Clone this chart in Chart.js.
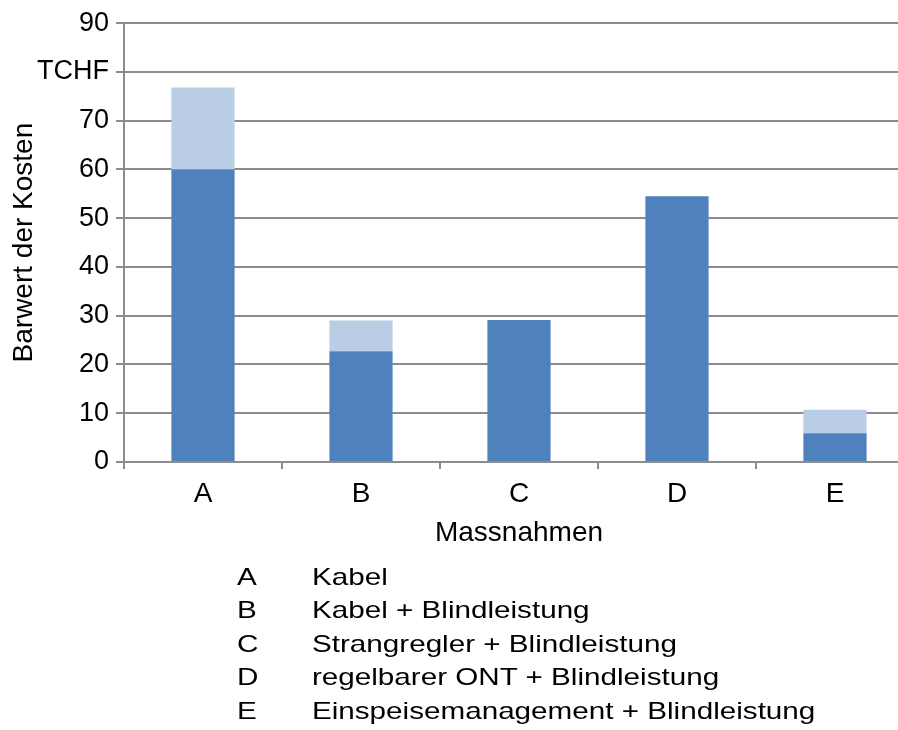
<!DOCTYPE html>
<html lang="de">
<head>
<meta charset="utf-8">
<title>Barwert der Kosten je Massnahme</title>
<script src="https://cdn.jsdelivr.net/npm/chart.js@4/dist/chart.umd.min.js"></script>
<style>
  html, body { margin: 0; padding: 0; background: #fff; overflow: hidden; }
  #wrap { position: relative; width: 898px; height: 730px; overflow: hidden; }
  #chart { position: absolute; left: 0; top: 0; }
  #key {
    position: absolute; left: 237px; top: 560px;
    font-family: "Liberation Sans", Arial, sans-serif;
    font-size: 24px; line-height: 33.4px; color: #000;
    transform: scaleX(1.235); transform-origin: 0 0;
    white-space: nowrap;
  }
  #key .row { display: flex; }
  #key .code { width: 60.7px; }
</style>
</head>
<body>
<div id="wrap">
  <canvas id="chart" width="920" height="730"></canvas>
  <div id="key"></div>
</div>
<script>
// Massnahmen (Kategorien) und ihre Beschreibung
const categories = ['A', 'B', 'C', 'D', 'E'];
const descriptions = [
  'Kabel',
  'Kabel + Blindleistung',
  'Strangregler + Blindleistung',
  'regelbarer ONT + Blindleistung',
  'Einspeisemanagement + Blindleistung'
];

// Barwert der Kosten in TCHF, gestapelt
const baseCosts = [60, 22.7, 29.1, 54.5, 5.9];
const extraCosts = [16.8, 6.3, 0, 0, 4.8];

// Achsenbeschriftung: der Wert 80 trägt die Einheit
const yTickValues = [0, 10, 20, 30, 40, 50, 60, 70, 80, 90];
const unitTickValue = 80;
const unitLabel = 'TCHF';

const FONT = '"Liberation Sans", Arial, sans-serif';
const GRID = '#8c8c8c';

// Legende unter dem Diagramm
const key = document.getElementById('key');
categories.forEach((c, i) => {
  const row = document.createElement('div');
  row.className = 'row';
  const code = document.createElement('span');
  code.className = 'code';
  code.textContent = c;
  const text = document.createElement('span');
  text.textContent = descriptions[i];
  row.appendChild(code);
  row.appendChild(text);
  key.appendChild(row);
});

new Chart(document.getElementById('chart'), {
  type: 'bar',
  data: {
    labels: categories,
    datasets: [
      { label: 'Basis', data: baseCosts, backgroundColor: '#4f81bd', borderWidth: 0 },
      { label: 'Zusatz', data: extraCosts, backgroundColor: '#b9cde5', borderWidth: 0 }
    ]
  },
  options: {
    responsive: false,
    animation: false,
    devicePixelRatio: 1,
    barPercentage: 0.4,
    categoryPercentage: 1.0,
    layout: { padding: { top: 22, right: 6, bottom: 180, left: 0 } },
    plugins: {
      legend: { display: false },
      tooltip: { enabled: false }
    },
    scales: {
      x: {
        stacked: true,
        offset: true,
        grid: {
          offset: true,
          drawOnChartArea: false,
          drawTicks: true,
          tickLength: 7,
          color: GRID,
          lineWidth: 2
        },
        border: { color: GRID, width: 2 },
        ticks: {
          color: '#000',
          padding: 8,
          font: { family: FONT, size: 28 }
        },
        title: {
          display: true,
          text: 'Massnahmen',
          color: '#000',
          padding: { top: 0, bottom: 0 },
          font: { family: FONT, size: 28 }
        },
        afterFit: (scale) => { scale.height = 88; }
      },
      y: {
        stacked: true,
        min: 0,
        max: 90,
        afterBuildTicks: (scale) => {
          scale.ticks = yTickValues.map(v => ({ value: v }));
        },
        grid: {
          color: GRID,
          lineWidth: 2,
          drawTicks: true,
          tickLength: 8
        },
        border: { color: GRID, width: 2 },
        ticks: {
          color: '#000',
          padding: 7,
          font: { family: FONT, size: 27 }
          ,
          callback: (v) => (v === unitTickValue ? unitLabel : String(v))
        },
        title: {
          display: true,
          text: 'Barwert der Kosten',
          color: '#000',
          padding: { top: 7, bottom: 0 },
          font: { family: FONT, size: 28 }
        },
        afterFit: (scale) => { scale.width = 124; }
      }
    }
  }
});
</script>
</body>
</html>
